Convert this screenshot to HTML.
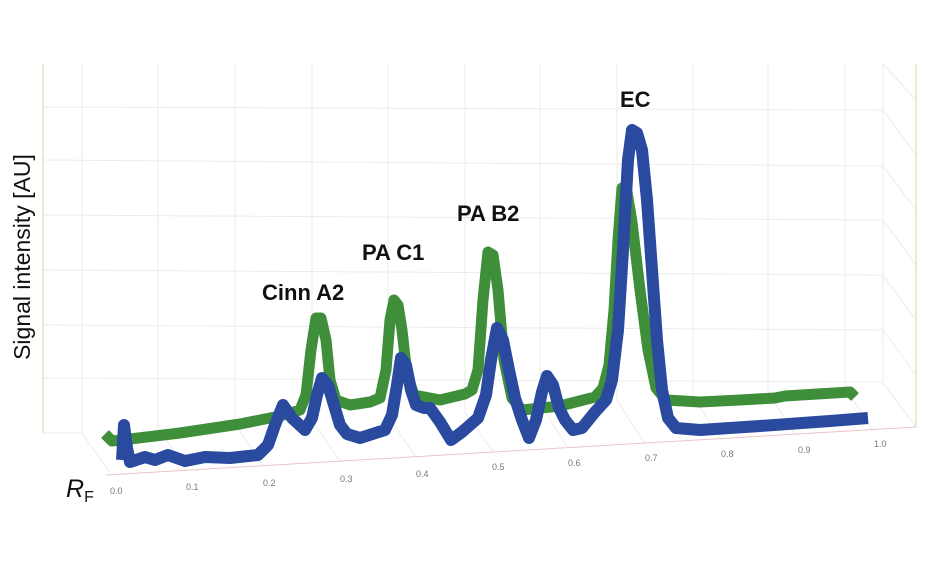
<!DOCTYPE html>
<html><head><meta charset="utf-8"><style>
html,body{margin:0;padding:0;background:#fff;}
svg{display:block;}
</style></head><body>
<svg width="930" height="576" viewBox="0 0 930 576" xmlns="http://www.w3.org/2000/svg">
<g stroke="#ebebeb" stroke-width="1" fill="none">
  <line x1="43" y1="107" x2="883" y2="110"/>
  <line x1="43" y1="160" x2="883" y2="166"/>
  <line x1="43" y1="215" x2="883" y2="220"/>
  <line x1="43" y1="270" x2="883" y2="275"/>
  <line x1="43" y1="325" x2="883" y2="330"/>
  <line x1="43" y1="378" x2="883" y2="382"/>
  <line x1="43" y1="433" x2="82" y2="433"/>
  <line x1="82" y1="64" x2="82" y2="433"/>
  <line x1="158" y1="64" x2="158" y2="428"/>
  <line x1="235" y1="64" x2="235" y2="424"/>
  <line x1="312" y1="64" x2="312" y2="420"/>
  <line x1="388" y1="64" x2="388" y2="416"/>
  <line x1="465" y1="64" x2="465" y2="412"/>
  <line x1="540" y1="64" x2="540" y2="404"/>
  <line x1="617" y1="64" x2="617" y2="400"/>
  <line x1="693" y1="64" x2="693" y2="396"/>
  <line x1="768" y1="64" x2="768" y2="392"/>
  <line x1="845" y1="64" x2="845" y2="387"/>
  <line x1="883" y1="64" x2="883" y2="383"/>
  <line x1="82" y1="433" x2="110" y2="473"/>
  <line x1="158" y1="428" x2="186" y2="469"/>
  <line x1="235" y1="424" x2="263" y2="465"/>
  <line x1="312" y1="420" x2="340" y2="461"/>
  <line x1="388" y1="416" x2="416" y2="457"/>
  <line x1="465" y1="412" x2="493" y2="452"/>
  <line x1="540" y1="404" x2="568" y2="448"/>
  <line x1="617" y1="400" x2="645" y2="444"/>
  <line x1="693" y1="396" x2="721" y2="440"/>
  <line x1="768" y1="392" x2="796" y2="436"/>
  <line x1="845" y1="387" x2="873" y2="431"/>
  <line x1="883" y1="64" x2="916" y2="100"/>
  <line x1="883" y1="110" x2="916" y2="155"/>
  <line x1="883" y1="166" x2="916" y2="210"/>
  <line x1="883" y1="220" x2="916" y2="265"/>
  <line x1="883" y1="275" x2="916" y2="320"/>
  <line x1="883" y1="330" x2="916" y2="375"/>
  <line x1="883" y1="383" x2="916" y2="427"/>
</g>
<line x1="43" y1="64" x2="43" y2="433" stroke="#d6ecca" stroke-width="1.5"/>
<line x1="916" y1="64" x2="916" y2="427" stroke="#d6ecca" stroke-width="1.5"/>
<line x1="106" y1="475" x2="916" y2="427" stroke="#ecc4c4" stroke-width="1"/>
<g font-family="Liberation Sans, sans-serif" font-size="9" fill="#777">
  <text x="110" y="494">0.0</text><text x="186" y="490">0.1</text><text x="263" y="486">0.2</text>
  <text x="340" y="482">0.3</text><text x="416" y="477">0.4</text><text x="492" y="470">0.5</text>
  <text x="568" y="466">0.6</text><text x="645" y="461">0.7</text><text x="721" y="457">0.8</text>
  <text x="798" y="453">0.9</text><text x="874" y="447">1.0</text>
</g>
<path d="M105,434 L112,441 L130,439 L180,433 L240,424 L280,416 L300,410 L306,395 L311,350 L316,318 L321,318 L326,340 L330,380 L336,400 L350,405 L370,402 L380,398 L386,370 L390,320 L394,300 L398,305 L402,330 L407,375 L414,395 L440,400 L465,394 L472,390 L478,370 L483,300 L488,252 L493,255 L498,290 L504,360 L512,398 L522,410 L560,406 L595,397 L603,388 L609,365 L614,310 L618,240 L622,188 L627,192 L632,222 L640,290 L648,350 L656,388 L666,400 L700,402 L740,400 L775,398 L785,396 L850,392 L855,397"
 fill="none" stroke="#3f8f3a" stroke-width="11" stroke-linejoin="round"/>
<path d="M122,460 L124,425 L127,448 L130,462 L145,457 L155,460 L168,455 L185,461 L205,457 L230,458 L258,455 L268,445 L275,425 L283,405 L292,418 L305,430 L312,418 L317,395 L322,378 L328,385 L334,405 L340,425 L347,434 L360,438 L385,430 L392,415 L397,385 L401,358 L406,365 L411,390 L416,405 L424,408 L430,408 L440,422 L451,440 L462,432 L478,418 L486,395 L491,360 L497,328 L503,340 L509,370 L515,398 L522,420 L529,438 L536,420 L542,392 L547,376 L553,385 L559,408 L565,420 L573,430 L582,428 L595,412 L606,400 L612,380 L618,330 L623,250 L628,160 L632,130 L637,133 L642,150 L647,200 L652,270 L657,340 L662,390 L668,418 L676,428 L700,430 L760,426 L830,421 L868,418"
 fill="none" stroke="#2a4aa0" stroke-width="12" stroke-linejoin="round"/>
<g font-family="Liberation Sans, sans-serif" font-weight="bold" font-size="22" fill="#111">
  <text x="262" y="300">Cinn A2</text>
  <text x="362" y="260">PA C1</text>
  <text x="457" y="221">PA B2</text>
  <text x="620" y="107">EC</text>
</g>
<text transform="translate(30,257) rotate(-90)" text-anchor="middle" font-family="Liberation Sans, sans-serif" font-size="23" fill="#111">Signal intensity [AU]</text>
<text x="66" y="497" font-family="Liberation Sans, sans-serif" font-style="italic" font-size="25" fill="#111">R<tspan font-style="normal" font-size="16" dy="5">F</tspan></text>
</svg>
</body></html>
